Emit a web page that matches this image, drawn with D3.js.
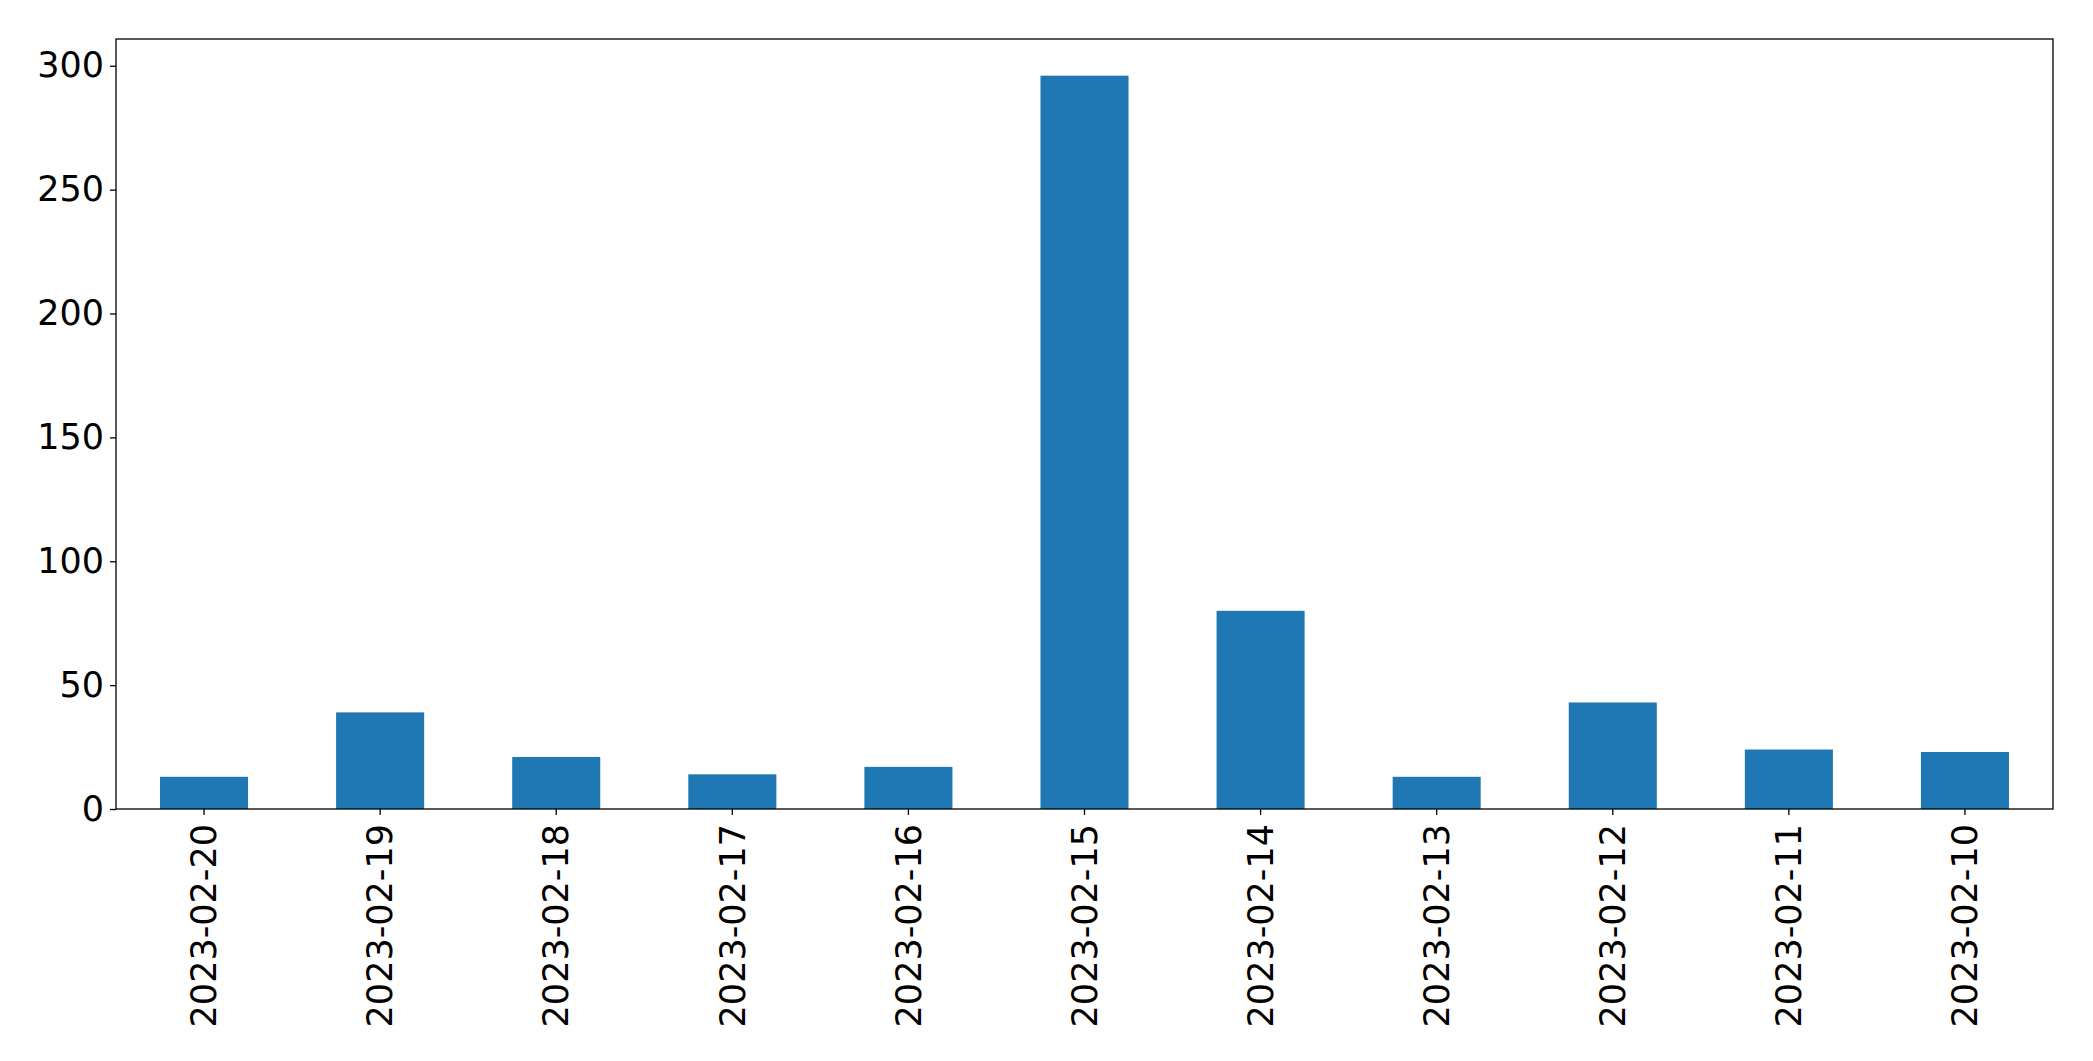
<!DOCTYPE html>
<html>
<head>
<meta charset="utf-8">
<script src="https://cdn.jsdelivr.net/npm/d3@7"></script>
<style>
  html, body { margin: 0; padding: 0; background: #fff; }
  svg { display: block; }
  text { font-family: "DejaVu Sans", sans-serif; fill: #000; }
</style>
</head>
<body>
<svg id="chart" width="2093" height="1061"></svg>
<script>
const categories = ["2023-02-20","2023-02-19","2023-02-18","2023-02-17","2023-02-16","2023-02-15","2023-02-14","2023-02-13","2023-02-12","2023-02-11","2023-02-10"];
const values = [13, 39, 21, 14, 17, 296, 80, 13, 43, 24, 23];
const yTicks = [0, 50, 100, 150, 200, 250, 300];

const W = 2093, H = 1061;
const margin = {left: 116, top: 39, right: W - 2053, bottom: H - 809};
const iw = W - margin.left - margin.right;
const ih = H - margin.top - margin.bottom;

const svg = d3.select("#chart");
const g = svg.append("g").attr("transform", `translate(${margin.left},${margin.top})`);

const x = d3.scaleBand().domain(categories).range([0, iw]).paddingInner(0.5).paddingOuter(0.25);
const y = d3.scaleLinear().domain([0, d3.max(values) * 1.05]).range([ih, 0]);

g.selectAll("rect.bar").data(values).join("rect")
  .attr("class", "bar")
  .attr("x", (d, i) => x(categories[i]))
  .attr("y", d => y(d))
  .attr("width", x.bandwidth())
  .attr("height", d => y(0) - y(d))
  .attr("fill", "#1f77b4");

const fs = "35px";

const yAxis = g.append("g").call(d3.axisLeft(y).tickValues(yTicks).tickSize(6).tickPadding(6).tickFormat(d3.format("d")));
yAxis.select(".domain").remove();
yAxis.selectAll("line").attr("stroke", "#000").attr("stroke-width", 1.3);
yAxis.selectAll("text").style("font-size", fs).attr("font-family", "DejaVu Sans");

const xAxis = g.append("g").attr("transform", `translate(0,${ih})`)
  .call(d3.axisBottom(x).tickSize(6).tickPadding(0));
xAxis.select(".domain").remove();
xAxis.selectAll("line").attr("stroke", "#000").attr("stroke-width", 1.3);
xAxis.selectAll("text")
  .style("font-size", fs)
  .attr("font-family", "DejaVu Sans")
  .attr("text-anchor", "end")
  .attr("dy", "0.35em")
  .attr("y", 0)
  .attr("x", 0)
  .attr("transform", "translate(0,15) rotate(-90)");

g.append("rect").attr("x", 0).attr("y", 0).attr("width", iw).attr("height", ih)
  .attr("fill", "none").attr("stroke", "#000").attr("stroke-width", 1.3);
</script>
</body>
</html>
